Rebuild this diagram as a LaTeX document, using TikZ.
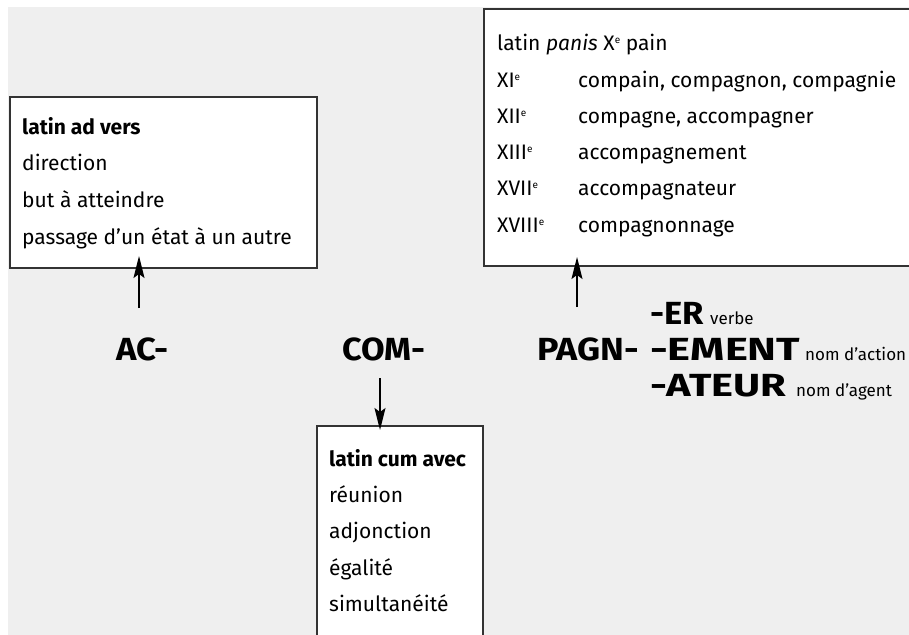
\documentclass[tikz,border=0pt]{standalone}
\usepackage{fontspec}
\setmainfont{Fira Sans}
\usetikzlibrary{arrows.meta,calc}
\definecolor{bg}{HTML}{EFEFEF}
\definecolor{frame}{HTML}{333333}
% small raised "e" for centuries
\newcommand{\sieclee}{\raisebox{7pt}{\fontsize{10}{10}\selectfont e}}
% horizontally widened bold text
\newcommand{\wideb}[2]{{\addfontfeature{FakeStretch=#1}\bfseries #2}}
\begin{document}
\begin{tikzpicture}[x=1pt,y=-1pt,
  panel/.style={draw=frame,line width=1.6pt,fill=white,inner sep=0pt,outer sep=0pt,anchor=north west},
  txt/.style={anchor=base west,inner sep=0pt,font=\fontsize{21}{24}\selectfont},
  btxt/.style={txt,font=\fontsize{21}{24}\selectfont\bfseries},
  big/.style={anchor=base west,inner sep=0pt,font=\fontsize{32}{36}\selectfont},
  desc/.style={anchor=base west,inner sep=0pt,font=\fontsize{17}{20}\selectfont},
  arr/.style={-{Stealth[length=22pt,width=11pt,inset=4pt]},line width=1.3pt,black}]
\useasboundingbox (0,0) rectangle (909,634);
\clip (0,0) rectangle (909,634);
\fill[bg] (8,7) rectangle (920,650);

% boxes
\node[panel,minimum width=307pt,minimum height=171pt] (lbox) at (10,97) {};
\node[panel,minimum width=460pt,minimum height=257pt] (rbox) at (484,9) {};
\node[panel,minimum width=166pt,minimum height=260pt] (bbox) at (317,426) {};

% left box: ad-
\node[btxt] (l1) at (22,134) {latin ad vers};
\node[txt] (l2) at (22,170) {direction};
\node[txt] (l3) at (22,207) {but à atteindre};
\node[txt] (l4) at (22,244) {passage d’un état à un autre};

% right box: panis
\node[txt] (r0) at (497,51) {latin \textit{panis} X\sieclee{} pain};
\node[txt] (r1a) at (497,87) {XI\sieclee};
\node[txt] (r1b) at (578,87) {compain, compagnon, compagnie};
\node[txt] (r2a) at (497,123) {XII\sieclee};
\node[txt] (r2b) at (578,123) {compagne, accompagner};
\node[txt] (r3a) at (497,159) {XIII\sieclee};
\node[txt] (r3b) at (578,159) {accompagnement};
\node[txt] (r4a) at (497,195) {XVII\sieclee};
\node[txt] (r4b) at (578,195) {accompagnateur};
\node[txt] (r5a) at (497,232) {XVIII\sieclee};
\node[txt] (r5b) at (578,232) {compagnonnage};

% bottom box: cum
\node[btxt] (b1) at (329,466) {latin cum avec};
\node[txt] (b2) at (329,502) {réunion};
\node[txt] (b3) at (329,538) {adjonction};
\node[txt] (b4) at (329,575) {égalité};
\node[txt] (b5) at (329,611) {simultanéité};

% morphemes
\node[big] (ac) at (116,360) {\wideb{1.08}{AC-}};
\node[big] (com) at (342,360) {\wideb{1.07}{COM-}};
\node[big] (pagn) at (537,360) {\wideb{1.12}{PAGN-}};
\node[big] (er) at (650,324) {\wideb{1.08}{-ER}};
\node[desc] (erd) at (710,324) {verbe};
\node[big] (ement) at (650,360) {\wideb{1.36}{-EMENT}};
\node[desc] (ementd) at (805,360) {nom d’action};
\node[big] (ateur) at (650,396) {\wideb{1.3}{-ATEUR}};
\node[desc] (ateurd) at (796,396) {nom d’agent};

% connectors
\coordinate (acfoot) at (139,308);
\coordinate (comtop) at (380,378);
\coordinate (pagnfoot) at (577,307);
\draw[arr,shorten >=-12pt] (acfoot) -- (acfoot |- lbox.south);
\draw[arr,shorten >=-4pt] (comtop) -- (comtop |- bbox.north);
\draw[arr,shorten >=-9pt] (pagnfoot) -- (pagnfoot |- rbox.south);
\end{tikzpicture}
\end{document}
